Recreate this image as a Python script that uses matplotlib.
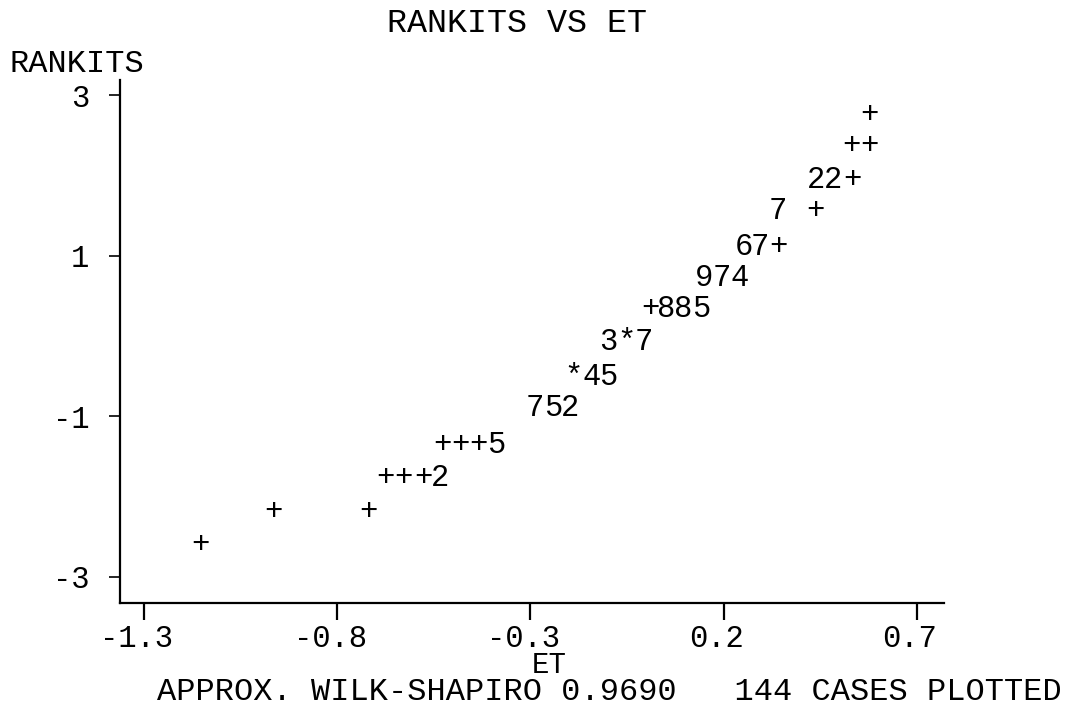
import matplotlib
matplotlib.use("Agg")
import matplotlib.pyplot as plt
from matplotlib.transforms import ScaledTranslation

# character-plot glyphs: ET position, rankit position, printed symbol
et = [0.578,
      0.531, 0.578,
      0.440, 0.483, 0.533,
      0.341, 0.436,
      0.251, 0.294, 0.341,
      0.149, 0.196, 0.242,
      0.009, 0.052, 0.095, 0.143,
      -0.099, -0.051, -0.008,
      -0.190, -0.143, -0.100,
      -0.288, -0.242, -0.198,
      -0.529, -0.482, -0.436, -0.389,
      -0.676, -0.629, -0.577, -0.534,
      -0.965, -0.720,
      -1.155]
rankit = [2.75,
          2.36, 2.36,
          1.94, 1.94, 1.94,
          1.55, 1.55,
          1.11, 1.11, 1.11,
          0.72, 0.72, 0.72,
          0.34, 0.34, 0.34, 0.34,
          -0.07, -0.07, -0.07,
          -0.51, -0.51, -0.51,
          -0.90, -0.90, -0.90,
          -1.36, -1.36, -1.36, -1.36,
          -1.77, -1.77, -1.77, -1.77,
          -2.19, -2.19,
          -2.60]
symbols = ["+",
           "+", "+",
           "2", "2", "+",
           "7", "+",
           "6", "7", "+",
           "9", "7", "4",
           "+", "8", "8", "5",
           "3", "*", "7",
           "*", "4", "5",
           "7", "5", "2",
           "+", "+", "+", "5",
           "+", "+", "+", "2",
           "+", "+",
           "+"]

x_ticks = [-1.3, -0.8, -0.3, 0.2, 0.7]
x_tick_labels = ["-1.3", "-0.8", "-0.3", "0.2", "0.7"]
y_ticks = [3, 1, -1, -3]
y_tick_labels = ["3", "1", "-1", "-3"]

title = "RANKITS VS ET"
footer = "APPROX. WILK-SHAPIRO 0.9690   144 CASES PLOTTED"

W, H = 1081, 720
mono = "Liberation Mono"

fig = plt.figure(figsize=(W / 100, H / 100), dpi=100)
fig.patch.set_facecolor("white")

# axes box in pixels: left 120, right 944, top 80, bottom 603
ax = fig.add_axes([120 / W, (H - 603) / H, (944 - 120) / W, (603 - 80) / H])
ax.set_xlim(-1.362, 0.770)
ax.set_ylim(-3.326, 3.187)

for s in ["top", "right"]:
    ax.spines[s].set_visible(False)
for s in ["left", "bottom"]:
    ax.spines[s].set_linewidth(1.6)
    ax.spines[s].set_color("black")

ax.set_xticks(x_ticks)
ax.set_xticklabels(x_tick_labels, fontfamily=mono, fontsize=22)
ax.set_yticks(y_ticks)
ax.set_yticklabels(y_tick_labels, fontfamily=mono, fontsize=22)
ax.tick_params(axis="x", direction="out", length=12, width=1.6, pad=3)
ax.tick_params(axis="y", direction="out", length=8, width=1.2, pad=14)

# printed labels sit a little left of their tick marks
shift = ScaledTranslation(-7 / 100, 0, fig.dpi_scale_trans)
for lbl in ax.get_xticklabels():
    lbl.set_transform(lbl.get_transform() + shift)

for x, y, s in zip(et, rankit, symbols):
    ax.text(x, y, s, ha="center", va="center", fontfamily=mono,
            fontsize=22, color="black")

fig.text(517 / W, 1 - 24 / H, title, ha="center", va="center",
         fontfamily=mono, fontsize=24)
fig.text(10 / W, 1 - 64 / H, "RANKITS", ha="left", va="center",
         fontfamily=mono, fontsize=23)
fig.text(549 / W, 1 - 665 / H, "ET", ha="center", va="center",
         fontfamily=mono, fontsize=21)
fig.text(157 / W, 1 - 692 / H, footer, ha="left", va="center",
         fontfamily=mono, fontsize=23)

fig.savefig("out.png", dpi=100, facecolor="white")
